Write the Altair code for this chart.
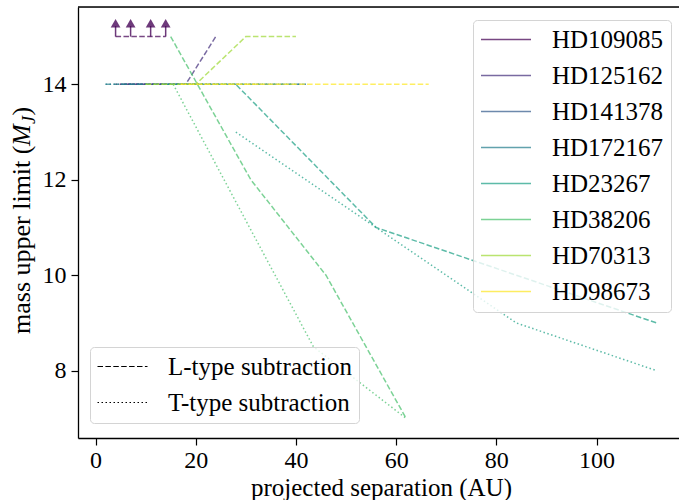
import altair as alt
import pandas as pd

# Stars and their viridis colours
stars = ["HD109085", "HD125162", "HD141378", "HD172167",
         "HD23267", "HD38206", "HD70313", "HD98673"]
star_colors = ["#440154", "#46327e", "#365c8d", "#277f8e",
               "#1fa187", "#4ac16d", "#a0da39", "#fde725"]
kinds = ["L-type subtraction", "T-type subtraction"]

# Mass upper limits (M_J) versus projected separation (AU)
hd109085_l_sep = [4, 7, 11, 14]
hd109085_l_mass = [15, 15, 15, 15]          # lower limits, drawn with arrows
hd109085_t_sep = [4, 7, 11, 14]
hd109085_t_mass = [14, 14, 14, 14]

hd125162_l_sep = [6, 12, 18, 24]
hd125162_l_mass = [14, 14, 14, 15]
hd125162_t_sep = [6, 12, 18, 24]
hd125162_t_mass = [14, 14, 14, 14]

hd141378_l_sep = [5, 10, 15, 20]
hd141378_l_mass = [14, 14, 14, 14]
hd141378_t_sep = [5, 10, 15, 20]
hd141378_t_mass = [14, 14, 14, 14]

hd172167_l_sep = [2, 14, 28, 42]
hd172167_l_mass = [14, 14, 14, 14]
hd172167_t_sep = [2, 14, 28, 42]
hd172167_t_mass = [14, 14, 14, 14]

hd23267_l_sep = [14, 28, 56, 84, 112]
hd23267_l_mass = [14, 14, 11, 10, 9]
hd23267_t_sep = [28, 56, 84, 112]
hd23267_t_mass = [13, 11, 9, 8]

hd38206_l_sep = [15, 31, 46, 62]
hd38206_l_mass = [15, 12, 10, 7]
hd38206_t_sep = [15.5, 31, 43.5, 62]
hd38206_t_mass = [14, 10.95, 8.5, 7]

hd70313_l_sep = [10, 20, 30, 40]
hd70313_l_mass = [14, 14, 15, 15]
hd70313_t_sep = [10, 20, 30, 40]
hd70313_t_mass = [14, 14, 14, 14]

hd98673_l_sep = [17, 33, 50, 66.5]
hd98673_l_mass = [14, 14, 14, 14]
hd98673_t_sep = [17, 33]
hd98673_t_mass = [14, 14]

curves = [
    ("HD109085", kinds[0], hd109085_l_sep, hd109085_l_mass),
    ("HD109085", kinds[1], hd109085_t_sep, hd109085_t_mass),
    ("HD125162", kinds[0], hd125162_l_sep, hd125162_l_mass),
    ("HD125162", kinds[1], hd125162_t_sep, hd125162_t_mass),
    ("HD141378", kinds[0], hd141378_l_sep, hd141378_l_mass),
    ("HD141378", kinds[1], hd141378_t_sep, hd141378_t_mass),
    ("HD172167", kinds[0], hd172167_l_sep, hd172167_l_mass),
    ("HD172167", kinds[1], hd172167_t_sep, hd172167_t_mass),
    ("HD23267", kinds[0], hd23267_l_sep, hd23267_l_mass),
    ("HD23267", kinds[1], hd23267_t_sep, hd23267_t_mass),
    ("HD38206", kinds[0], hd38206_l_sep, hd38206_l_mass),
    ("HD38206", kinds[1], hd38206_t_sep, hd38206_t_mass),
    ("HD70313", kinds[0], hd70313_l_sep, hd70313_l_mass),
    ("HD70313", kinds[1], hd70313_t_sep, hd70313_t_mass),
    ("HD98673", kinds[0], hd98673_l_sep, hd98673_l_mass),
    ("HD98673", kinds[1], hd98673_t_sep, hd98673_t_mass),
]

rows = []
for star, kind, seps, masses in curves:
    for s, m in zip(seps, masses):
        rows.append({"star": star, "kind": kind, "curve": star + kind,
                     "sep": s, "mass": m})
df = pd.DataFrame(rows)

limits = pd.DataFrame({"star": "HD109085", "sep": hd109085_l_sep,
                       "mass": hd109085_l_mass})

FONT = "Liberation Serif"
ALPHA = 0.72
W, H = 601, 431
X_DOMAIN = [-3.5, -3.5 + W / 5.01]
Y_DOMAIN = [6.59, 15.62]

x_scale = alt.Scale(domain=X_DOMAIN, nice=False, zero=False)
y_scale = alt.Scale(domain=Y_DOMAIN, nice=False, zero=False)

x_axis = alt.Axis(values=[0, 20, 40, 60, 80, 100], grid=False,
                  tickSize=7, tickWidth=1.2, tickColor="black",
                  domainColor="black", domainWidth=1.3,
                  labelFont=FONT, labelFontSize=24, labelColor="black",
                  labelPadding=3, labelFlush=False,
                  title="projected separation (AU)", titleFont=FONT,
                  titleFontSize=25, titleFontWeight="normal",
                  titleColor="black", titleX=303, titleY=57,
                  titleAlign="center", titleBaseline="alphabetic")
y_axis = alt.Axis(values=[8, 10, 12, 14], grid=False,
                  tickSize=7, tickWidth=1.2, tickColor="black",
                  domainColor="black", domainWidth=1.3,
                  labelFont=FONT, labelFontSize=24, labelColor="black",
                  labelPadding=5, title=None)

legend_box = dict(
    title=None, orient="none", symbolType="stroke", symbolSize=2500,
    labelFont=FONT, labelFontSize=25, labelColor="black", labelOffset=20,
    labelLimit=400, clipHeight=25, rowPadding=10, padding=7,
    strokeColor="#d4d4d4", fillColor="rgba(255,255,255,0.8)",
    cornerRadius=4)
star_legend = alt.Legend(legendX=395, legendY=13, symbolStrokeWidth=1.5,
                         symbolOpacity=ALPHA, **legend_box)
kind_legend = alt.Legend(legendX=12, legendY=340, symbolStrokeWidth=1.0,
                         symbolStrokeColor="black", symbolOpacity=1,
                         **legend_box)

lines = alt.Chart(df).mark_line(strokeWidth=1.5, opacity=ALPHA).encode(
    x=alt.X("sep:Q", scale=x_scale, axis=x_axis),
    y=alt.Y("mass:Q", scale=y_scale, axis=y_axis),
    color=alt.Color("star:N", scale=alt.Scale(domain=stars, range=star_colors),
                    legend=star_legend),
    strokeDash=alt.StrokeDash("kind:N",
                              scale=alt.Scale(domain=kinds,
                                              range=[[5.5, 2.4], [1.5, 2.5]]),
                              legend=kind_legend),
    detail="curve:N",
)

# Lower-limit arrows for HD109085
arrow_base = alt.Chart(limits).transform_calculate(
    tip="datum.mass + 0.22", head="datum.mass + 0.28")
stems = arrow_base.mark_rule(strokeWidth=1.5, color=star_colors[0],
                             opacity=0.78).encode(
    x=alt.X("sep:Q", scale=x_scale),
    y=alt.Y("mass:Q", scale=y_scale),
    y2="tip:Q")
heads = arrow_base.mark_point(shape="triangle-up", filled=True, size=95,
                              color=star_colors[0], opacity=0.78).encode(
    x=alt.X("sep:Q", scale=x_scale),
    y=alt.Y("head:Q", scale=y_scale))

# Top spine
one_row = limits.head(1)
top = alt.Chart(one_row).mark_rule(color="black", strokeWidth=1.3).encode(
    x=alt.value(0), x2=alt.value(W), y=alt.value(0))

# y-axis title with an italic M and subscript J, set bottom-to-top
TX = -48
title_specs = [("mass upper limit (", "normal", 26, 0, 188),
               ("M", "italic", 26, 0, 22),
               ("J", "italic", 18, 5, 8.5),
               (")", "normal", 26, 0, 9)]
title_marks = []
ypos = 327
for txt, style, size, shift, adv in title_specs:
    title_marks.append(
        alt.Chart(one_row).mark_text(
            text=txt, font=FONT, fontSize=size, fontStyle=style,
            angle=270, align="left", baseline="alphabetic", color="black"
        ).encode(x=alt.value(TX + shift), y=alt.value(ypos))
    )
    ypos -= adv

chart = alt.layer(lines, stems, heads, top, *title_marks).properties(
    width=W, height=H,
    autosize=alt.AutoSizeParams(type="none"),
    padding={"left": 78, "top": 7, "right": 0, "bottom": 62},
).configure_view(stroke=None).configure(background="white")

chart.save("out.html", embed_options={"renderer": "svg", "actions": False})
